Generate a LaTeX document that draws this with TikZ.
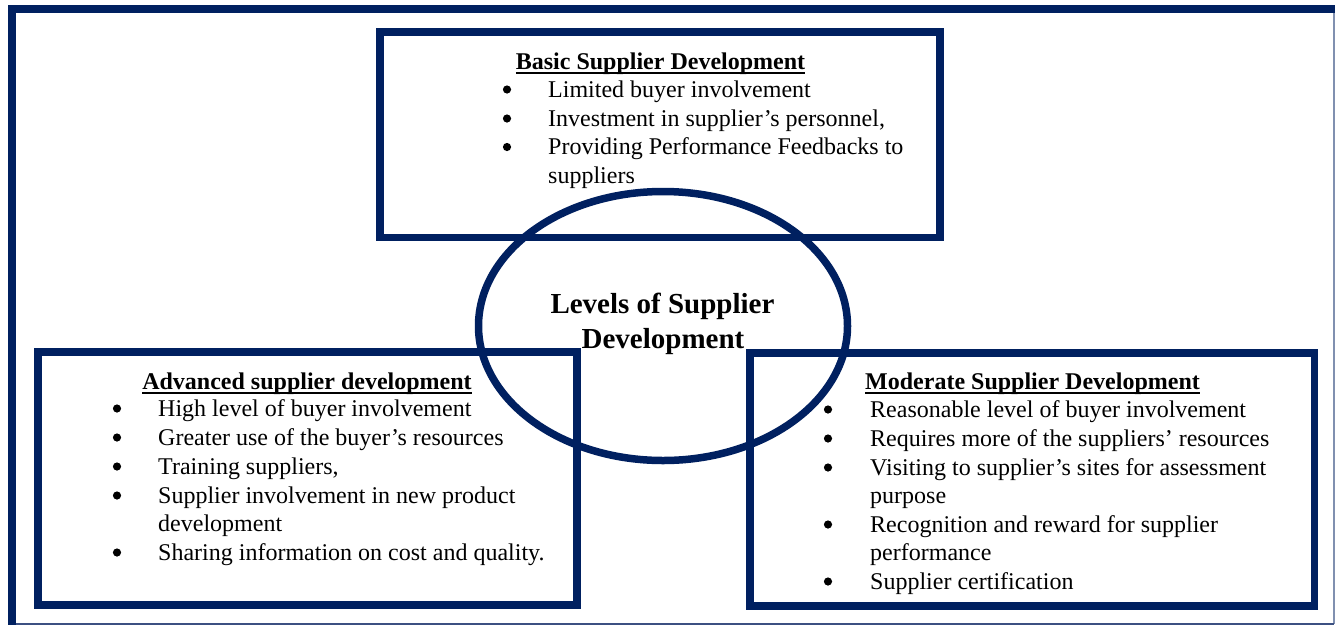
\documentclass[tikz,border=0pt]{standalone}
\usepackage{fontspec}
\setmainfont{Liberation Serif}
\usetikzlibrary{shapes.geometric}
\definecolor{navy}{RGB}{0,32,96}
\definecolor{edgegrey}{RGB}{128,144,176}
\definecolor{edgeblue}{RGB}{60,80,130}
% underline set just under the baseline, crossing descenders
\newcommand\ulhead[1]{\setbox0\hbox{#1}\rlap{\rule[-4.5pt]{\wd0}{1.8pt}}\box0}
\begin{document}
\begin{tikzpicture}[x=1pt,y=-1pt,
  panel/.style={draw=navy,line width=7.6pt},
  head/.style={anchor=base,inner sep=0pt,font=\fontsize{24}{29}\selectfont\bfseries},
  dot/.style={circle,fill=black,inner sep=0pt,minimum size=8.2pt,yshift=7.5pt},
  entry/.style={anchor=base west,inner sep=0pt,font=\fontsize{24}{29}\selectfont},
  core/.style={anchor=base,inner sep=0pt,font=\fontsize{29}{35}\selectfont\bfseries}]
\useasboundingbox (0,0) rectangle (1335,625);
\fill[white] (0,0) rectangle (1335,625);

% outer frame: heavy top and left rules, light right and bottom rules
\draw[edgegrey,line width=1.2pt] (1334,12) -- (1334,624);
\draw[edgeblue,line width=1.2pt] (16,624) -- (1334,624);
\draw[navy,line width=7.7pt] (8,8.8) -- (1335,8.8);
\draw[navy,line width=7.7pt] (12,5) -- (12,625);

% the three panels
\draw[panel] (380,32) rectangle (940,237.5);
\draw[panel] (38,352) rectangle (577,605);
\draw[panel] (750,353) rectangle (1314.5,606);

% central ellipse
\node[draw=navy,line width=7.5pt,ellipse,minimum width=369pt,minimum height=269pt,inner sep=0pt] (core) at (663,326) {};
\node[core] (coreA) at (662.5,313) {Levels of Supplier};
\node[core] (coreB) at (663,348) {Development};

% basic level
\node[head] (basicH) at (660.5,69) {\ulhead{Basic Supplier Development}};
\node[dot] (basicB1) at (507,97) {};
\node[entry] (basicT1) at (548,97) {Limited buyer involvement};
\node[dot] (basicB2) at (507,126) {};
\node[entry] (basicT2) at (548,126) {Investment in supplier’s personnel,};
\node[dot] (basicB3) at (507,154.5) {};
\node[entry] (basicT3) at (548,154.5) {Providing Performance Feedbacks to};
\node[entry] (basicT3b) at (548,183) {suppliers};

% advanced level
\node[head] (advH) at (307,389) {\ulhead{Advanced supplier development}};
\node[dot] (advB1) at (117,416) {};
\node[entry] (advT1) at (158,416) {High level of buyer involvement};
\node[dot] (advB2) at (117,445) {};
\node[entry] (advT2) at (158,445) {Greater use of the buyer’s resources};
\node[dot] (advB3) at (117,474) {};
\node[entry] (advT3) at (158,474) {Training suppliers,};
\node[dot] (advB4) at (117,503) {};
\node[entry] (advT4) at (158,503) {Supplier involvement in new product};
\node[entry] (advT4b) at (158,531) {development};
\node[dot] (advB5) at (117,560) {};
\node[entry] (advT5) at (158,560) {Sharing information on cost and quality.};

% moderate level
\node[head] (modH) at (1032.5,389) {\ulhead{Moderate Supplier Development}};
\node[dot] (modB1) at (828,417) {};
\node[entry] (modT1) at (870,417) {Reasonable level of buyer involvement};
\node[dot] (modB2) at (828,446) {};
\node[entry] (modT2) at (870,446) {Requires more of the suppliers’ resources};
\node[dot] (modB3) at (828,475) {};
\node[entry] (modT3) at (870,475) {Visiting to supplier’s sites for assessment};
\node[entry] (modT3b) at (870,503) {purpose};
\node[dot] (modB4) at (828,532) {};
\node[entry] (modT4) at (870,532) {Recognition and reward for supplier};
\node[entry] (modT4b) at (870,560) {performance};
\node[dot] (modB5) at (828,589) {};
\node[entry] (modT5) at (870,589) {Supplier certification};
\end{tikzpicture}
\end{document}
